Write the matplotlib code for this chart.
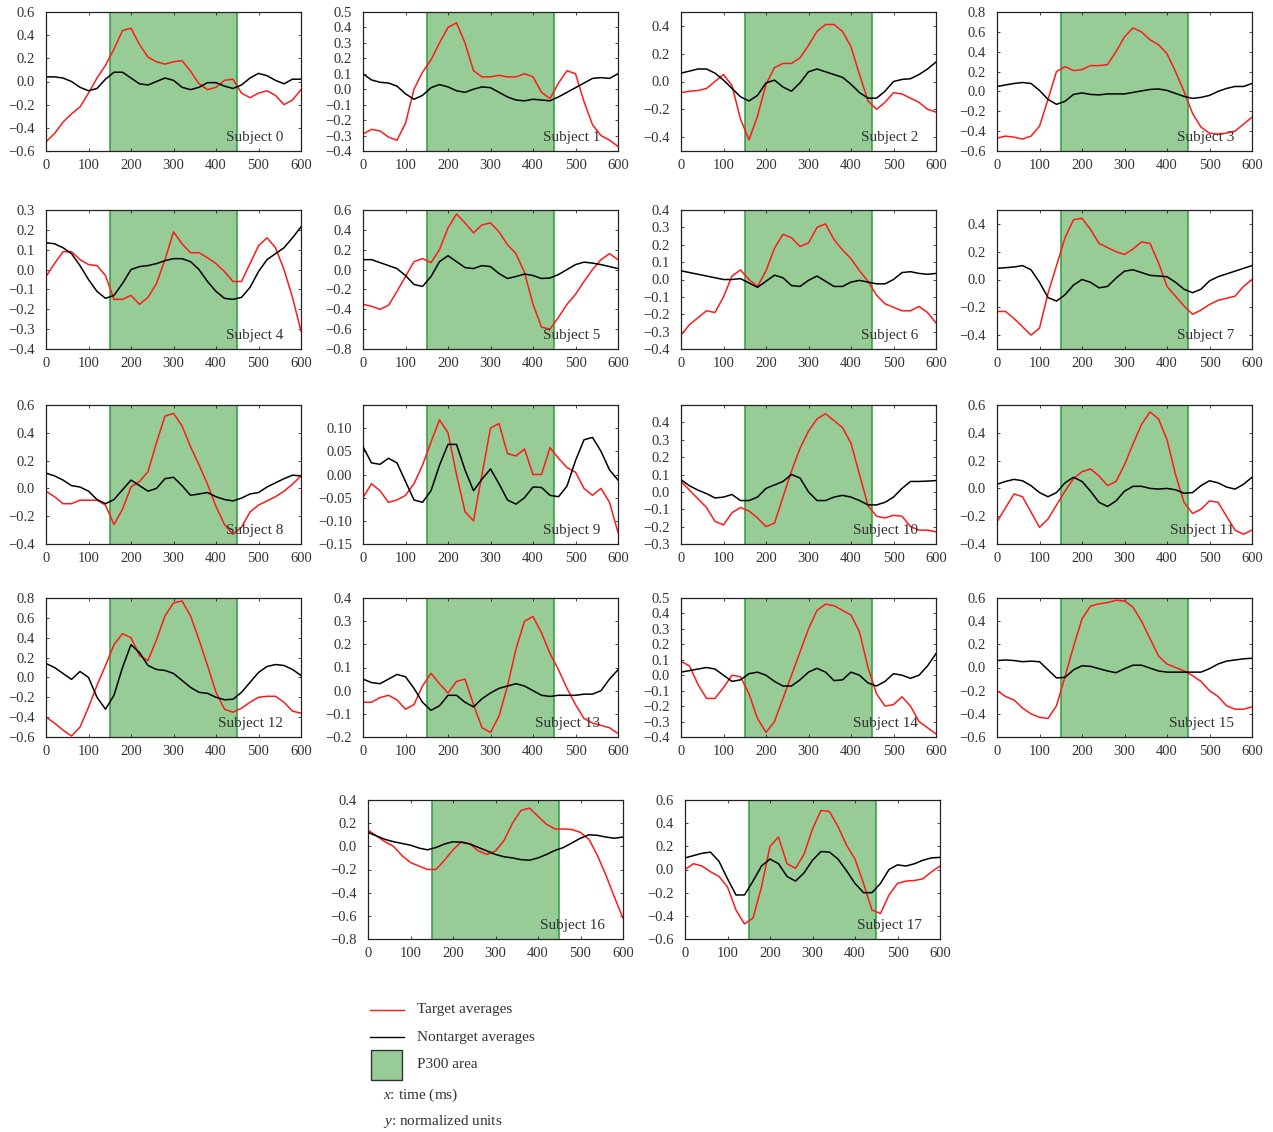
import matplotlib
matplotlib.use("Agg")
import matplotlib.pyplot as plt
from matplotlib.lines import Line2D
from matplotlib.patches import Rectangle

plt.rcParams['font.family'] = ['Liberation Serif', 'DejaVu Serif']
plt.rcParams['axes.unicode_minus'] = True
plt.rcParams['mathtext.fontset'] = 'custom'
plt.rcParams['mathtext.rm'] = 'Liberation Serif'
plt.rcParams['mathtext.it'] = 'Liberation Serif:italic'

TIME_MS = [0, 20, 40, 60, 80, 100, 120, 140, 160, 180, 200, 220, 240, 260, 280, 300,
           320, 340, 360, 380, 400, 420, 440, 460, 480, 500, 520, 540, 560, 580, 600]
P300_WINDOW = (150, 450)
X_TICKS = [0, 100, 200, 300, 400, 500, 600]

# Target averages per subject
target_0 = [-0.52, -0.45, -0.35, -0.28, -0.22, -0.10, 0.03, 0.14, 0.28, 0.44, 0.46, 0.32, 0.21, 0.17, 0.15, 0.17,
            0.18, 0.09, -0.02, -0.07, -0.05, 0.01, 0.02, -0.10, -0.14, -0.10, -0.08, -0.12, -0.20, -0.16, -0.07]
target_1 = [-0.29, -0.26, -0.27, -0.31, -0.33, -0.22, 0.00, 0.11, 0.19, 0.30, 0.40, 0.43, 0.30, 0.12, 0.08, 0.08,
            0.09, 0.08, 0.08, 0.10, 0.08, -0.02, -0.06, 0.04, 0.12, 0.10, -0.08, -0.23, -0.30, -0.33, -0.37]
target_2 = [-0.08, -0.07, -0.065, -0.05, 0.00, 0.05, -0.03, -0.27, -0.42, -0.25, -0.02, 0.10, 0.13, 0.13, 0.17, 0.26,
            0.36, 0.41, 0.41, 0.36, 0.25, 0.05, -0.14, -0.20, -0.15, -0.08, -0.09, -0.12, -0.15, -0.20, -0.22]
target_3 = [-0.47, -0.45, -0.46, -0.48, -0.45, -0.35, -0.08, 0.20, 0.25, 0.21, 0.22, 0.26, 0.26, 0.27, 0.40, 0.55,
            0.64, 0.60, 0.52, 0.47, 0.38, 0.20, 0.00, -0.22, -0.36, -0.42, -0.43, -0.42, -0.40, -0.33, -0.26]
target_4 = [-0.035, 0.03, 0.09, 0.09, 0.05, 0.025, 0.02, -0.03, -0.15, -0.15, -0.13, -0.175, -0.14, -0.07, 0.05, 0.19,
            0.13, 0.085, 0.085, 0.06, 0.03, -0.01, -0.06, -0.06, 0.03, 0.12, 0.16, 0.11, 0.00, -0.14, -0.31]
target_5 = [-0.35, -0.37, -0.40, -0.36, -0.22, -0.07, 0.08, 0.11, 0.07, 0.20, 0.42, 0.56, 0.47, 0.37, 0.45, 0.47,
            0.38, 0.25, 0.16, -0.03, -0.35, -0.58, -0.60, -0.48, -0.35, -0.25, -0.12, 0.00, 0.10, 0.16, 0.10]
target_6 = [-0.32, -0.26, -0.22, -0.18, -0.19, -0.10, 0.02, 0.055, 0.00, -0.04, 0.05, 0.18, 0.26, 0.24, 0.19, 0.21,
            0.30, 0.32, 0.23, 0.17, 0.12, 0.05, -0.01, -0.09, -0.14, -0.16, -0.18, -0.18, -0.155, -0.19, -0.25]
target_7 = [-0.23, -0.23, -0.28, -0.34, -0.40, -0.35, -0.10, 0.10, 0.30, 0.43, 0.44, 0.36, 0.26, 0.23, 0.20, 0.18,
            0.22, 0.27, 0.26, 0.12, -0.05, -0.12, -0.19, -0.25, -0.22, -0.18, -0.15, -0.135, -0.12, -0.05, 0.00]
target_8 = [-0.02, -0.06, -0.11, -0.11, -0.085, -0.085, -0.085, -0.12, -0.26, -0.15, 0.01, 0.05, 0.12, 0.33, 0.52, 0.54,
            0.45, 0.30, 0.17, 0.03, -0.13, -0.26, -0.33, -0.28, -0.17, -0.12, -0.09, -0.06, -0.02, 0.03, 0.09]
target_9 = [-0.05, -0.02, -0.035, -0.06, -0.055, -0.045, -0.02, 0.02, 0.07, 0.118, 0.09, 0.00, -0.08, -0.10, 0.00, 0.10,
            0.11, 0.045, 0.04, 0.055, 0.00, 0.00, 0.058, 0.035, 0.015, 0.005, -0.03, -0.045, -0.03, -0.06, -0.125]
target_10 = [0.06, 0.01, -0.04, -0.09, -0.17, -0.19, -0.12, -0.09, -0.11, -0.15, -0.20, -0.18, -0.03, 0.12, 0.25, 0.35,
             0.42, 0.45, 0.41, 0.37, 0.28, 0.10, -0.08, -0.14, -0.15, -0.135, -0.14, -0.20, -0.22, -0.22, -0.23]
target_11 = [-0.24, -0.14, -0.04, -0.06, -0.17, -0.28, -0.22, -0.12, -0.02, 0.07, 0.12, 0.14, 0.09, 0.02, 0.05, 0.17,
             0.32, 0.46, 0.55, 0.50, 0.35, 0.10, -0.10, -0.18, -0.15, -0.09, -0.10, -0.20, -0.30, -0.33, -0.30]
target_12 = [-0.40, -0.46, -0.53, -0.59, -0.50, -0.30, -0.08, 0.12, 0.33, 0.44, 0.40, 0.22, 0.17, 0.38, 0.62, 0.75,
             0.77, 0.62, 0.38, 0.12, -0.15, -0.32, -0.35, -0.31, -0.25, -0.20, -0.19, -0.19, -0.25, -0.34, -0.36]
target_13 = [-0.05, -0.05, -0.03, -0.02, -0.04, -0.08, -0.06, 0.02, 0.075, 0.03, -0.01, 0.04, 0.05, -0.06, -0.16, -0.18,
             -0.11, 0.02, 0.18, 0.30, 0.32, 0.25, 0.16, 0.09, 0.01, -0.06, -0.12, -0.14, -0.15, -0.16, -0.185]
target_14 = [0.09, 0.06, -0.06, -0.15, -0.15, -0.08, 0.00, -0.01, -0.12, -0.28, -0.37, -0.30, -0.15, 0.00, 0.15, 0.30,
             0.42, 0.46, 0.45, 0.42, 0.39, 0.28, 0.05, -0.12, -0.20, -0.19, -0.14, -0.20, -0.30, -0.34, -0.38]
target_15 = [-0.20, -0.25, -0.28, -0.35, -0.40, -0.43, -0.44, -0.33, -0.08, 0.18, 0.42, 0.53, 0.55, 0.56, 0.58, 0.575,
             0.52, 0.40, 0.25, 0.10, 0.03, 0.00, -0.03, -0.07, -0.12, -0.20, -0.25, -0.33, -0.36, -0.36, -0.34]
target_16 = [0.14, 0.09, 0.04, 0.00, -0.08, -0.14, -0.17, -0.20, -0.20, -0.12, -0.03, 0.04, 0.02, -0.04, -0.07, -0.04,
             0.05, 0.20, 0.31, 0.33, 0.26, 0.19, 0.15, 0.15, 0.145, 0.12, 0.06, -0.08, -0.25, -0.44, -0.62]
target_17 = [0.00, 0.05, 0.03, -0.02, -0.06, -0.15, -0.35, -0.47, -0.42, -0.15, 0.20, 0.28, 0.05, 0.01, 0.13, 0.35,
             0.51, 0.50, 0.37, 0.21, 0.09, -0.12, -0.35, -0.38, -0.22, -0.12, -0.10, -0.095, -0.08, -0.02, 0.03]

# Nontarget averages per subject
nontarget_0 = [0.04, 0.04, 0.03, 0.00, -0.05, -0.08, -0.06, 0.02, 0.08, 0.08, 0.03, -0.02, -0.03, 0.00, 0.03, 0.01,
               -0.05, -0.07, -0.05, -0.01, -0.01, -0.04, -0.06, -0.03, 0.03, 0.07, 0.05, 0.01, -0.02, 0.02, 0.02]
nontarget_1 = [0.10, 0.06, 0.045, 0.04, 0.02, -0.03, -0.065, -0.04, 0.01, 0.03, 0.015, -0.01, -0.02, 0.00, 0.015, 0.01,
               -0.02, -0.05, -0.07, -0.075, -0.065, -0.07, -0.075, -0.05, -0.02, 0.01, 0.04, 0.07, 0.075, 0.07, 0.10]
nontarget_2 = [0.06, 0.075, 0.09, 0.09, 0.06, 0.01, -0.05, -0.11, -0.14, -0.10, -0.01, 0.01, -0.04, -0.07, -0.01, 0.07,
               0.09, 0.07, 0.05, 0.03, -0.02, -0.08, -0.12, -0.12, -0.07, 0.00, 0.015, 0.02, 0.05, 0.09, 0.14]
nontarget_3 = [0.05, 0.065, 0.08, 0.09, 0.08, 0.01, -0.08, -0.13, -0.10, -0.03, -0.015, -0.03, -0.035, -0.025, -0.025, -0.025,
               -0.01, 0.005, 0.02, 0.025, 0.01, -0.02, -0.05, -0.07, -0.06, -0.04, 0.00, 0.03, 0.05, 0.05, 0.08]
nontarget_4 = [0.135, 0.13, 0.11, 0.08, 0.02, -0.05, -0.11, -0.145, -0.13, -0.07, 0.00, 0.015, 0.02, 0.03, 0.045, 0.055,
               0.055, 0.04, 0.00, -0.06, -0.11, -0.145, -0.15, -0.14, -0.09, -0.01, 0.05, 0.08, 0.11, 0.16, 0.215]
nontarget_5 = [0.10, 0.10, 0.07, 0.04, 0.01, -0.06, -0.15, -0.17, -0.07, 0.08, 0.14, 0.08, 0.02, 0.01, 0.04, 0.03,
               -0.04, -0.09, -0.07, -0.045, -0.06, -0.09, -0.085, -0.05, 0.00, 0.05, 0.075, 0.065, 0.05, 0.03, 0.01]
nontarget_6 = [0.05, 0.04, 0.03, 0.02, 0.01, 0.00, 0.00, 0.005, -0.02, -0.045, -0.01, 0.025, 0.01, -0.035, -0.04, -0.005,
               0.02, -0.01, -0.04, -0.04, -0.015, -0.005, -0.015, -0.025, -0.025, 0.00, 0.04, 0.045, 0.035, 0.03, 0.035]
nontarget_7 = [0.08, 0.085, 0.09, 0.10, 0.07, -0.02, -0.13, -0.155, -0.11, -0.04, 0.00, -0.02, -0.06, -0.05, 0.01, 0.06,
               0.07, 0.05, 0.03, 0.025, 0.02, -0.02, -0.07, -0.095, -0.07, -0.01, 0.02, 0.04, 0.06, 0.08, 0.10]
nontarget_8 = [0.11, 0.09, 0.06, 0.02, 0.01, -0.02, -0.08, -0.11, -0.08, -0.01, 0.06, 0.02, -0.02, 0.00, 0.07, 0.08,
               0.02, -0.05, -0.04, -0.03, -0.06, -0.08, -0.09, -0.07, -0.04, -0.03, 0.01, 0.04, 0.07, 0.095, 0.09]
nontarget_9 = [0.06, 0.025, 0.022, 0.035, 0.025, -0.015, -0.055, -0.06, -0.035, 0.02, 0.065, 0.065, 0.01, -0.035, -0.01, 0.012,
               -0.02, -0.055, -0.064, -0.05, -0.027, -0.028, -0.045, -0.048, -0.025, 0.03, 0.075, 0.08, 0.05, 0.01, -0.012]
nontarget_10 = [0.07, 0.035, 0.01, -0.01, -0.035, -0.03, -0.015, -0.05, -0.05, -0.03, 0.02, 0.04, 0.06, 0.10, 0.08, 0.00,
                -0.05, -0.05, -0.03, -0.02, -0.03, -0.05, -0.075, -0.075, -0.06, -0.03, 0.02, 0.06, 0.06, 0.062, 0.065]
nontarget_11 = [0.03, 0.05, 0.065, 0.055, 0.02, -0.03, -0.06, -0.03, 0.04, 0.08, 0.05, -0.02, -0.10, -0.13, -0.09, -0.02,
                0.015, 0.015, 0.00, -0.005, 0.00, -0.01, -0.035, -0.03, 0.02, 0.055, 0.04, 0.01, -0.005, 0.03, 0.08]
nontarget_12 = [0.14, 0.10, 0.04, -0.02, 0.06, 0.00, -0.20, -0.32, -0.18, 0.10, 0.33, 0.25, 0.12, 0.08, 0.07, 0.04,
                -0.03, -0.10, -0.15, -0.16, -0.20, -0.225, -0.22, -0.15, -0.05, 0.05, 0.11, 0.13, 0.12, 0.08, 0.02]
nontarget_13 = [0.05, 0.035, 0.03, 0.05, 0.07, 0.06, 0.01, -0.05, -0.085, -0.065, -0.02, -0.02, -0.05, -0.07, -0.035, -0.01,
                0.01, 0.02, 0.03, 0.02, 0.00, -0.02, -0.025, -0.02, -0.02, -0.02, -0.015, -0.015, 0.00, 0.05, 0.09]
nontarget_14 = [0.02, 0.03, 0.04, 0.05, 0.04, 0.00, -0.04, -0.03, 0.01, 0.02, 0.00, -0.04, -0.07, -0.07, -0.03, 0.02,
                0.045, 0.02, -0.035, -0.03, 0.02, 0.00, -0.05, -0.07, -0.04, 0.01, 0.00, -0.02, 0.00, 0.06, 0.14]
nontarget_15 = [0.06, 0.065, 0.06, 0.05, 0.055, 0.05, -0.02, -0.09, -0.085, -0.02, 0.015, 0.01, -0.01, -0.03, -0.045, -0.01,
                0.02, 0.02, -0.005, -0.03, -0.04, -0.04, -0.04, -0.04, -0.04, -0.01, 0.03, 0.055, 0.065, 0.075, 0.08]
nontarget_16 = [0.12, 0.09, 0.06, 0.04, 0.025, 0.01, -0.015, -0.03, -0.01, 0.02, 0.04, 0.035, 0.02, -0.01, -0.04, -0.07,
                -0.09, -0.10, -0.115, -0.12, -0.10, -0.07, -0.035, -0.01, 0.03, 0.07, 0.10, 0.095, 0.08, 0.07, 0.08]
nontarget_17 = [0.10, 0.12, 0.14, 0.15, 0.07, -0.08, -0.22, -0.22, -0.10, 0.03, 0.09, 0.05, -0.06, -0.10, -0.03, 0.08,
                0.155, 0.15, 0.09, -0.01, -0.12, -0.20, -0.20, -0.12, 0.00, 0.04, 0.03, 0.05, 0.08, 0.10, 0.105]

TARGETS = [target_0, target_1, target_2, target_3, target_4, target_5, target_6, target_7, target_8,
           target_9, target_10, target_11, target_12, target_13, target_14, target_15, target_16, target_17]
NONTARGETS = [nontarget_0, nontarget_1, nontarget_2, nontarget_3, nontarget_4, nontarget_5, nontarget_6,
              nontarget_7, nontarget_8, nontarget_9, nontarget_10, nontarget_11, nontarget_12, nontarget_13,
              nontarget_14, nontarget_15, nontarget_16, nontarget_17]

# y range and tick labels for each subject panel
Y_LIMITS = [(-0.6, 0.6), (-0.4, 0.5), (-0.5, 0.5), (-0.6, 0.8), (-0.4, 0.3), (-0.8, 0.6),
            (-0.4, 0.4), (-0.5, 0.5), (-0.4, 0.6), (-0.15, 0.15), (-0.3, 0.5), (-0.4, 0.6),
            (-0.6, 0.8), (-0.2, 0.4), (-0.4, 0.5), (-0.6, 0.6), (-0.8, 0.4), (-0.6, 0.6)]
Y_TICKS = [
    [-0.6, -0.4, -0.2, 0.0, 0.2, 0.4, 0.6],
    [-0.4, -0.3, -0.2, -0.1, 0.0, 0.1, 0.2, 0.3, 0.4, 0.5],
    [-0.4, -0.2, 0.0, 0.2, 0.4],
    [-0.6, -0.4, -0.2, 0.0, 0.2, 0.4, 0.6, 0.8],
    [-0.4, -0.3, -0.2, -0.1, 0.0, 0.1, 0.2, 0.3],
    [-0.8, -0.6, -0.4, -0.2, 0.0, 0.2, 0.4, 0.6],
    [-0.4, -0.3, -0.2, -0.1, 0.0, 0.1, 0.2, 0.3, 0.4],
    [-0.4, -0.2, 0.0, 0.2, 0.4],
    [-0.4, -0.2, 0.0, 0.2, 0.4, 0.6],
    [-0.15, -0.10, -0.05, 0.00, 0.05, 0.10],
    [-0.3, -0.2, -0.1, 0.0, 0.1, 0.2, 0.3, 0.4],
    [-0.4, -0.2, 0.0, 0.2, 0.4, 0.6],
    [-0.6, -0.4, -0.2, 0.0, 0.2, 0.4, 0.6, 0.8],
    [-0.2, -0.1, 0.0, 0.1, 0.2, 0.3, 0.4],
    [-0.4, -0.3, -0.2, -0.1, 0.0, 0.1, 0.2, 0.3, 0.4, 0.5],
    [-0.6, -0.4, -0.2, 0.0, 0.2, 0.4, 0.6],
    [-0.8, -0.6, -0.4, -0.2, 0.0, 0.2, 0.4],
    [-0.6, -0.4, -0.2, 0.0, 0.2, 0.4, 0.6],
]
Y_DECIMALS = [1, 1, 1, 1, 1, 1, 1, 1, 1, 2, 1, 1, 1, 1, 1, 1, 1, 1]

RED = '#ff1a1a'
GREEN_FILL = '#97cc97'
GREEN_EDGE = '#2f9b3f'
TEXT = '#333333'
FS = 10.5

W, H = 1273, 1132
fig = plt.figure(figsize=(W / 100, H / 100), dpi=100)

# panel frames in pixel units: (left, top, width, height)
col_left = [46, 363, 681, 997]
row_top = [12, 210, 405, 598]
frames = []
for r in range(4):
    for c in range(4):
        frames.append((col_left[c], row_top[r], 255, 139))
frames.append((368, 800, 255, 139))
frames.append((685, 800, 255, 139))


def fmt(v, d):
    s = f"{abs(v):.{d}f}"
    return ("\u2212" + s) if v < -1e-12 else s


for i, (lx, ty, w, h) in enumerate(frames):
    ax = fig.add_axes([lx / W, 1 - (ty + h) / H, w / W, h / H])
    ax.axvspan(P300_WINDOW[0], P300_WINDOW[1], facecolor=GREEN_FILL, edgecolor='none', zorder=0)
    for xv in P300_WINDOW:
        ax.axvline(xv, color=GREEN_EDGE, lw=1.1, zorder=1)
    ax.plot(TIME_MS, NONTARGETS[i], color='black', lw=1.1, zorder=3)
    ax.plot(TIME_MS, TARGETS[i], color=RED, lw=1.1, zorder=2)
    ax.set_xlim(0, 600)
    ax.set_ylim(*Y_LIMITS[i])
    ax.set_xticks(X_TICKS)
    ax.set_xticklabels([str(v) for v in X_TICKS], fontsize=FS, color=TEXT)
    ax.set_yticks(Y_TICKS[i])
    ax.set_yticklabels([fmt(v, Y_DECIMALS[i]) for v in Y_TICKS[i]], fontsize=FS, color=TEXT)
    ax.tick_params(axis='x', direction='in', length=2, width=0.5, top=True, pad=6)
    ax.tick_params(axis='y', direction='in', length=2, width=0.5, right=True, pad=8)
    for sp in ax.spines.values():
        sp.set_linewidth(0.9)
        sp.set_color('#222222')
    ax.text(0.93, 0.07, f"Subject {i}", transform=ax.transAxes, ha='right', va='baseline',
            fontsize=FS + 0.5, color=TEXT, zorder=5)


def fx(px):
    return px / W


def fy(py):
    return 1 - py / H


# key below the panels
fig.add_artist(Line2D([fx(370), fx(404)], [fy(1010), fy(1010)], color=RED, lw=1.0))
fig.add_artist(Line2D([fx(370), fx(404)], [fy(1037), fy(1037)], color='black', lw=1.0))
fig.add_artist(Rectangle((fx(371), fy(1080)), fx(402) - fx(371), fy(1050) - fy(1080),
                         facecolor=GREEN_FILL, edgecolor='#333333', lw=1.0))
fig.text(fx(417), fy(1010), "Target averages", fontsize=FS + 0.5, va='center', ha='left', color=TEXT)
fig.text(fx(417), fy(1037), "Nontarget averages", fontsize=FS + 0.5, va='center', ha='left', color=TEXT)
fig.text(fx(417), fy(1064), "P300 area", fontsize=FS + 0.5, va='center', ha='left', color=TEXT)
fig.text(fx(383), fy(1095), "$x$: time (ms)", fontsize=FS + 0.5, va='center', ha='left', color=TEXT)
fig.text(fx(383), fy(1122), "$y$: normalized units", fontsize=FS + 0.5, va='center', ha='left', color=TEXT)

fig.savefig("out.png", dpi=100)
